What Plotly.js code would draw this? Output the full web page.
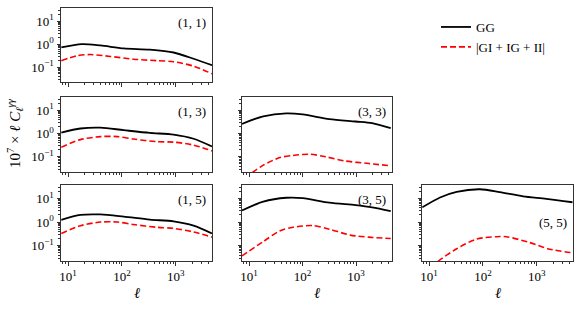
<!DOCTYPE html>
<html>
<head>
<meta charset="utf-8">
<script src="https://cdn.plot.ly/plotly-3.0.1.min.js"></script>
<style>html,body{margin:0;padding:0;background:#fff}#chart{width:581px;height:310px}</style>
</head>
<body>
<div id="chart"></div>
<script>
// ---- data ----
var panelLabels = ['(1, 1)', '(1, 3)', '(3, 3)', '(1, 5)', '(3, 5)', '(5, 5)'];
var seriesNames = ['GG', '|GI + IG + II|'];
var xTickVals = [10, 100, 1000];
var xTickText = ['10<sup>1</sup>', '10<sup>2</sup>', '10<sup>3</sup>'];
var yTickVals = [0.1, 1, 10];
var yTickText = ['10<sup>\u22121</sup>', '10<sup>0</sup>', '10<sup>1</sup>'];

// (1,1)
var ell11g = [7.5, 18, 40, 108, 330, 910, 2140, 4700];
var gg11   = [0.72, 1.0, 0.87, 0.65, 0.57, 0.43, 0.23, 0.12];
var ell11i = [7.5, 14.7, 25.9, 60.8, 164, 443, 910, 2140, 4700];
var ia11   = [0.19, 0.31, 0.35, 0.29, 0.22, 0.19, 0.17, 0.11, 0.051];
// (1,3)
var ell13g = [7.5, 17, 40, 108, 330, 910, 2140, 4700];
var gg13   = [1.1, 1.65, 1.8, 1.4, 1.07, 0.9, 0.6, 0.28];
var ell13i = [7.5, 17, 40, 82, 164, 443, 910, 2140, 4700];
var ia13   = [0.26, 0.55, 0.74, 0.74, 0.58, 0.45, 0.43, 0.32, 0.18];
// (1,5)
var ell15g = [7.5, 17, 40, 108, 330, 910, 2140, 4700];
var gg15   = [1.23, 2.0, 2.1, 1.7, 1.27, 1.07, 0.71, 0.33];
var ell15i = [7.5, 17, 40, 82, 164, 443, 910, 2140, 4700];
var ia15   = [0.33, 0.7, 1.0, 1.0, 0.79, 0.6, 0.54, 0.38, 0.23];
// (3,3)
var ell33g = [7.4, 18.5, 50, 101, 317, 983, 2000, 4450];
var gg33   = [2.6, 5.5, 7.3, 6.6, 4.2, 3.3, 2.8, 1.7];
var ell33i = [8.5, 11.2, 18.5, 37.5, 66.4, 135, 274, 640, 1740, 4450];
var ia33   = [0.012, 0.02, 0.044, 0.093, 0.115, 0.13, 0.1, 0.066, 0.052, 0.041];
// (3,5)
var ell35g = [7.4, 18.5, 50, 101, 317, 983, 2000, 4450];
var gg35   = [3.1, 7.4, 10.7, 10.3, 6.6, 5.2, 4.2, 2.9];
var ell35i = [7.4, 18.5, 37.5, 66.4, 155, 317, 780, 1740, 4450];
var ia35   = [0.037, 0.15, 0.42, 0.6, 0.71, 0.5, 0.28, 0.23, 0.2];
// (5,5)
var ell55g = [7.5, 16, 32.5, 88, 206, 557, 1500, 4600];
var gg55   = [4.2, 11, 19, 24.5, 18.6, 12.3, 9.7, 6.9];
var ell55i = [11, 14, 32.5, 76, 180, 274, 740, 1740, 4600];
var ia55   = [0.012, 0.02, 0.074, 0.19, 0.24, 0.24, 0.135, 0.071, 0.05];

var panels = [
  {eg: ell11g, g: gg11, ei: ell11i, i: ia11, row: 0, col: 0},
  {eg: ell13g, g: gg13, ei: ell13i, i: ia13, row: 1, col: 0},
  {eg: ell33g, g: gg33, ei: ell33i, i: ia33, row: 1, col: 1},
  {eg: ell15g, g: gg15, ei: ell15i, i: ia15, row: 2, col: 0},
  {eg: ell35g, g: gg35, ei: ell35i, i: ia35, row: 2, col: 1},
  {eg: ell55g, g: gg55, ei: ell55i, i: ia55, row: 2, col: 2}
];

// ---- layout geometry ----
var W = 581, H = 310;
var colPx = [[61, 212], [242, 392], [422, 573]];
var rowPx = [[8, 82], [97, 172], [185, 261]];
var serif = 'Liberation Serif, DejaVu Serif, serif';
var axisColor = '#333';

function minorVals(lo, hi) {
  var out = [];
  for (var e = lo; e <= hi; e++) {
    for (var k = 2; k <= 9; k++) out.push(k * Math.pow(10, e));
  }
  return out;
}

var data = [];
var layout = {
  width: W, height: H,
  margin: {l: 0, r: 0, t: 0, b: 0},
  paper_bgcolor: '#fff', plot_bgcolor: '#fff',
  font: {family: serif, size: 13, color: '#000'},
  showlegend: true,
  legend: {x: 436 / W, y: 1 - 12 / H, xanchor: 'left', yanchor: 'top',
           bgcolor: 'rgba(0,0,0,0)', font: {family: serif, size: 13, color: '#000'},
           tracegroupgap: 0},
  annotations: []
};

panels.forEach(function (p, idx) {
  var n = idx + 1;
  var xa = n === 1 ? 'x' : 'x' + n, ya = n === 1 ? 'y' : 'y' + n;
  var xk = n === 1 ? 'xaxis' : 'xaxis' + n, yk = n === 1 ? 'yaxis' : 'yaxis' + n;
  data.push({x: p.eg, y: p.g, xaxis: xa, yaxis: ya, type: 'scatter', mode: 'lines',
             name: seriesNames[0], showlegend: idx === 0, legendgroup: 'gg',
             line: {color: '#000', width: 1.8, shape: 'spline', smoothing: 0.8}, cliponaxis: true});
  data.push({x: p.ei, y: p.i, xaxis: xa, yaxis: ya, type: 'scatter', mode: 'lines',
             name: seriesNames[1], showlegend: idx === 0, legendgroup: 'ia',
             line: {color: '#ff0000', width: 1.6, dash: '6px,3px', shape: 'spline', smoothing: 0.8}, cliponaxis: true});
  var cx = colPx[p.col], ry = rowPx[p.row];
  var bottom = p.row === 2, left = p.col === 0;
  layout[xk] = {
    type: 'log', domain: [cx[0] / W, cx[1] / W], range: [Math.log10(7.4), Math.log10(4700)],
    anchor: ya, showline: true, mirror: true, linecolor: axisColor, linewidth: 1,
    showgrid: false, zeroline: false, ticks: 'outside', ticklen: 3.5, tickcolor: axisColor,
    tickmode: 'array', tickvals: xTickVals, ticktext: xTickText, showticklabels: bottom,
    tickfont: {family: serif, size: 13, color: '#000'},
    minor: {tickmode: 'array', tickvals: minorVals(0, 3), ticks: 'outside', ticklen: 2, tickcolor: axisColor, showgrid: false}
  };
  layout[yk] = {
    type: 'log', domain: [1 - ry[1] / H, 1 - ry[0] / H], range: [-1.65, 1.57],
    anchor: xa, showline: true, mirror: true, linecolor: axisColor, linewidth: 1,
    showgrid: false, zeroline: false, ticks: 'outside', ticklen: 3.5, tickcolor: axisColor,
    tickmode: 'array', tickvals: yTickVals, ticktext: yTickText, showticklabels: left,
    tickfont: {family: serif, size: 13, color: '#000'},
    minor: {tickmode: 'array', tickvals: minorVals(-2, 1), ticks: 'outside', ticklen: 2, tickcolor: axisColor, showgrid: false}
  };
  var mid = idx === 5;
  layout.annotations.push({
    text: panelLabels[idx], xref: xa + ' domain', yref: ya + ' domain',
    x: 1, y: mid ? 0.51 : 1, xanchor: 'right', yanchor: mid ? 'middle' : 'top',
    xshift: -4, yshift: mid ? 0 : -5, showarrow: false,
    font: {family: serif, size: 13, color: '#000'}
  });
  if (bottom) {
    layout.annotations.push({
      text: '<i>\u2113</i>', xref: xa + ' domain', yref: 'paper',
      x: 0.5, y: 1 - 293 / H, xanchor: 'center', yanchor: 'middle', showarrow: false,
      font: {family: serif, size: 15, color: '#000'}
    });
  }
});

layout.annotations.push({
  text: '10<sup>7</sup> \u00d7 <i>\u2113 C</i><sub><i>\u2113</i></sub><sup><i>\u03b3\u03b3</i></sup>',
  xref: 'paper', yref: 'paper', x: 15 / W, y: 1 - 133 / H, textangle: -90,
  xanchor: 'center', yanchor: 'middle', showarrow: false,
  font: {family: serif, size: 15, color: '#000'}
});

Plotly.newPlot('chart', data, layout, {staticPlot: true, displayModeBar: false});
</script>
</body>
</html>
